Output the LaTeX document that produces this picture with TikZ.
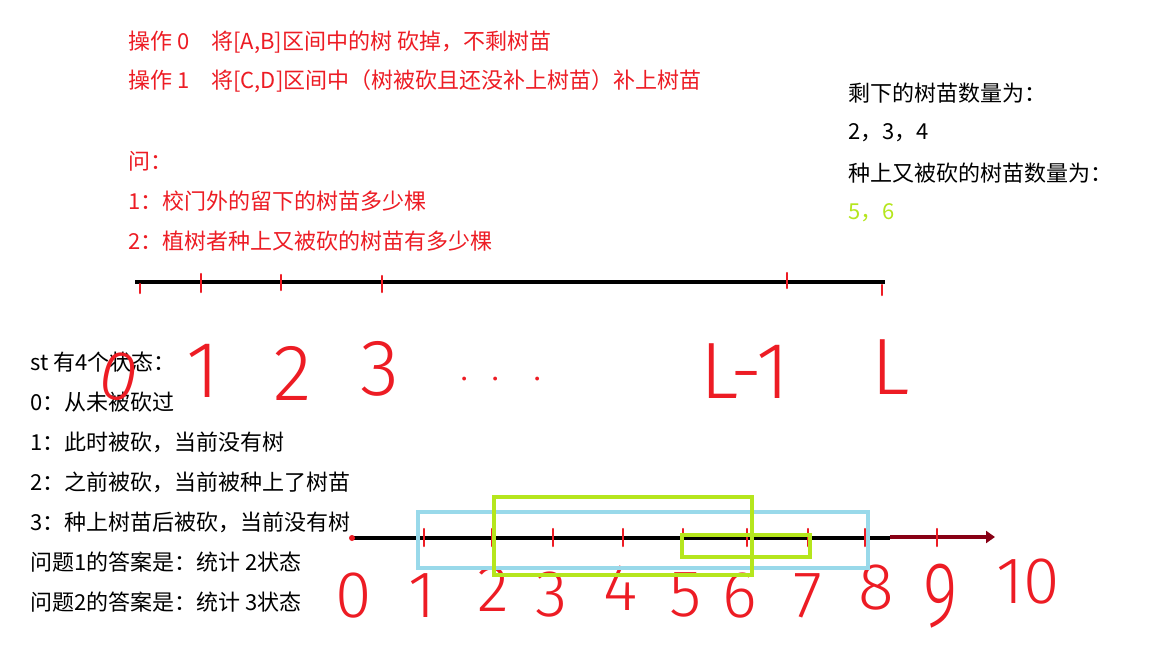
\documentclass[tikz,border=0pt]{standalone}
\usepackage{fontspec}
\setmainfont{Noto Sans CJK SC}
\newfontfamily\handfont{Fira Sans Light}
\usepackage{tikz}
\usetikzlibrary{arrows.meta}
\definecolor{penred}{HTML}{ED1C24}
\definecolor{darkred}{HTML}{880015}
\definecolor{skyblue}{HTML}{99D9EA}
\definecolor{limegreen}{HTML}{B5E61D}

\begin{document}
\begin{tikzpicture}[x=1pt,y=-1pt,
  txt/.style={anchor=west,inner sep=0pt,font=\fontsize{22}{22}\selectfont},
  redtxt/.style={txt,text=penred},
  hand/.style={inner sep=0pt,text=penred,font=\handfont\fontsize{80}{80}\selectfont},
  smallhand/.style={hand,font=\handfont\fontsize{66}{66}\selectfont},
  tick/.style={penred,line width=2.5pt,line cap=round},
  axis/.style={line width=4pt}]
\useasboundingbox (0,0) rectangle (1152,648);
\fill[white] (0,0) rectangle (1152,648);

% task text
\node[redtxt] (op0) at (128,42) {操作 0\hspace{1em}将[A,B]区间中的树 砍掉，不剩树苗};
\node[redtxt] (op1) at (128,81) {操作 1\hspace{1em}将[C,D]区间中（树被砍且还没补上树苗）补上树苗};
\node[redtxt] (ask) at (128,161) {问：};
\node[redtxt] (q1) at (128,201) {1：校门外的留下的树苗多少棵};
\node[redtxt] (q2) at (128,241) {2：植树者种上又被砍的树苗有多少棵};

% answers
\node[txt] (left) at (848,93) {剩下的树苗数量为：};
\node[txt] (leftval) at (848,133) {2，3，4};
\node[txt] (both) at (848,173) {种上又被砍的树苗数量为：};
\node[txt,text=limegreen] (bothval) at (848,213) {5，6};

% states
\node[txt] (st) at (30,362) {st 有4个状态：};
\node[txt] (st0) at (30,402) {0：从未被砍过};
\node[txt] (st1) at (30,442) {1：此时被砍，当前没有树};
\node[txt] (st2) at (30,482) {2：之前被砍，当前被种上了树苗};
\node[txt] (st3) at (30,522) {3：种上树苗后被砍，当前没有树};
\node[txt] (ans1) at (30,562) {问题1的答案是：统计 2状态};
\node[txt] (ans2) at (30,602) {问题2的答案是：统计 3状态};

% road 0..L
\draw[axis] (135,282) -- (885,282);
\foreach \x/\a/\b in {140/284/293,201/274/292,281/275/290,382/276/292,787/273/288,882/285/295}
  \draw[tick] (\x,\a) -- (\x,\b);
\node[hand,rotate=-12,font=\handfont\fontsize{70}{70}\selectfont] (p0) at (119,377) {0};
\node[hand] (p1) at (203,371) {1};
\node[hand] (p2) at (293,373) {2};
\node[hand] (p3) at (380,369) {3};
\node[hand,font=\handfont\fontsize{40}{40}\selectfont] (pdots) at (501,379) {.\hspace{23pt}.\hspace{34pt}.};
\node[hand] (pl1) at (745,371) {L-1};
\node[hand] (pl) at (891,367) {L};

% example 0..10
\draw[axis] (352,538) -- (890,538);
\draw[axis,darkred,-{Triangle[length=9pt,width=12pt]}] (890,537) -- (995,537);
\fill[penred] (352,538) circle (3pt);
\foreach \x in {424,492,553,623,683,747,808,865,937}
  \draw[tick] (\x,529) -- (\x,546);
\foreach \n/\x/\y in {0/354/596,1/422/596,2/493/589,3/552/595,4/621/588,5/686/595,6/740/596,7/808/596,8/876/588,10/1028/582}
  \node[smallhand] (d\n) at (\x,\y) {\n};
\node[smallhand,yscale=1.4] (d9) at (941,596) {9};

\draw[skyblue,line width=4pt] (418,512) rectangle (868,568);
\draw[limegreen,line width=4pt] (494,497) rectangle (752,575);
\draw[limegreen,line width=4pt] (682,535) rectangle (810,557);
\end{tikzpicture}
\end{document}
